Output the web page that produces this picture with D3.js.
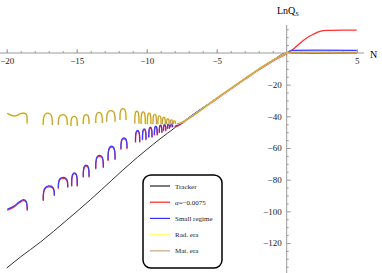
<!DOCTYPE html>
<html lang="en">
<head>
  <meta charset="UTF-8">
  <title>LnQs vs N</title>
  <style>
    body { margin: 0; background: #fff; }
    text { font-family: "Liberation Serif", "DejaVu Serif", serif; }
  </style>
</head>
<body>
  <svg id="chart"></svg>

  <script src="https://d3js.org/d3.v7.min.js"></script>
  <script>
    const width = 382;
    const height = 273;

    // tick values
    const xMajor = [-20, -15, -10, -5, 5];
    const xMinor = d3.range(-20, 6).filter(d => d !== 0);
    const yMajor = [-20, -40, -60, -80, -100, -120];
    const yMinor = [15, 10, 5, -5, -10, -15, -25, -30, -35, -45, -50, -55, -65, -70, -75,
                    -85, -90, -95, -105, -110, -115, -125, -130, -135];

    // Tracker (black)
    const tracker = [[-20, -135.8], [-19, -128.7], [-17.6, -119.5], [-15.7, -105.5], [-14, -92.5],
                     [-12.5, -80.4], [-11.7, -73.9], [-9.6, -58.1], [-7.4, -43.4], [-5, -28.5],
                     [-3, -16.2], [-2, -10.2], [-1, -4.6], [0, 0], [5, 0]];

    // shared trunk after the oscillations
    const trunk = [[-7.4, -43.4], [-5, -28.5], [-3, -16.2], [-2, -10.2], [-1, -4.6], [0, 0]];

    // oscillating part: first wave as points, then arches [N start, N end, low left, top, low right]
    const smallWave = [[-19.96, -98.7], [-19.5, -96.8], [-19.1, -94], [-18.8, -92.6], [-18.62, -93.5], [-18.53, -99]];
    const smallArches = [
      [-17.39, -16.6, -92.9, -83.6, -89.7],
      [-16.31, -15.64, -85.1, -78.3, -84.5],
      [-15.36, -14.96, -83.8, -75.3, -83.8],
      [-14.53, -14.12, -78.1, -70.5, -78],
      [-13.64, -13.1, -72.8, -64.3, -72],
      [-12.76, -12.26, -67.6, -58.5, -67],
      [-11.84, -11.41, -60.5, -53.3, -60],
      [-10.8, -10.5, -56, -48.6, -56],
      [-10.3, -10.05, -54.5, -47.6, -54.5],
      [-9.85, -9.62, -53, -46.6, -53],
      [-9.45, -9.25, -51.5, -45.9, -51.5],
      [-9.1, -8.92, -50, -45.3, -50],
      [-8.8, -8.64, -48.8, -44.9, -48.8],
      [-8.52, -8.38, -47.5, -44.6, -47.5],
      [-8.28, -8.15, -46.5, -44.3, -46.5]
    ];
    const smallTail = [[-8.0, -46.3], [-7.7, -45.2], [-7.4, -43.4]];
    const smallLate = [[0, 0], [0.3, 1.5], [0.6, 1.7], [5, 1.7]];
    const alphaLate = [[0, 0], [0.5, 3.2], [0.95, 6.8], [1.4, 9.9], [1.9, 12.4], [2.38, 14.3], [3, 14.9], [5, 15]];

    const matWave = [[-19.96, -38.1], [-19.6, -39.6], [-19.3, -39.6], [-19.05, -38.4], [-18.7, -38.1], [-18.58, -39], [-18.55, -44.6]];
    const matArches = [
      [-17.39, -16.74, -45.5, -37.7, -45.5],
      [-16.31, -15.67, -45.5, -38.7, -45.5],
      [-15.41, -14.96, -46.1, -39.7, -46.1],
      [-14.53, -14.12, -44.8, -38.6, -44.8],
      [-13.64, -13.17, -44.2, -37.2, -44.2],
      [-12.86, -12.26, -43.4, -36.1, -43.4],
      [-11.91, -11.48, -42.3, -34.8, -42.3],
      [-10.85, -10.55, -44.5, -36.4, -44.5],
      [-10.4, -10.1, -44.8, -36.9, -44.8],
      [-9.95, -9.7, -45, -37.6, -45],
      [-9.55, -9.3, -45, -38.4, -45],
      [-9.2, -8.97, -45, -39.4, -45],
      [-8.88, -8.67, -45, -40.4, -45],
      [-8.58, -8.4, -45, -41.4, -45],
      [-8.32, -8.16, -45, -42.1, -45],
      [-8.1, -7.95, -44.8, -42.7, -44.8]
    ];
    const matTail = [[-7.85, -44.8], [-7.6, -44.2], [-7.4, -43.4]];
    const matLate = [[0, 0], [0.4, 0.4], [5, 0.4]];

    const legendItems = [
      { label: "Tracker", color: "#222" },
      { label: "α=−0.0075", color: "#ff2020" },
      { label: "Small regime", color: "#3030ff" },
      { label: "Rad. era", color: "#ffff70" },
      { label: "Mat. era", color: "#c9a882" }
    ];

    const x = d3.scaleLinear().domain([-20, 5]).range([6.7, 356.7]);
    const y = d3.scaleLinear().domain([0, -120]).range([53, 243]);

    const svg = d3.select("#chart")
      .attr("width", width)
      .attr("height", height);

    const axisColor = "#9a9a9a";

    // x axis
    const gx = svg.append("g").attr("transform", `translate(0, ${y(0)})`);
    gx.append("line").attr("x1", 0).attr("x2", 364).attr("stroke", axisColor);
    gx.append("g")
      .call(d3.axisBottom(x).tickValues(xMinor).tickSize(-2).tickFormat(""))
      .call(g => g.select(".domain").remove());
    gx.append("g")
      .call(d3.axisBottom(x).tickValues(xMajor).tickSize(-4).tickPadding(5)
        .tickFormat(d => d < 0 ? "−" + Math.abs(d) : d))
      .call(g => g.select(".domain").remove());
    gx.selectAll(".tick line").attr("stroke", axisColor);
    gx.selectAll(".tick text").attr("font-size", 9).attr("fill", "#222")
      .attr("font-family", "Liberation Serif");

    // y axis
    const gy = svg.append("g").attr("transform", `translate(${x(0)}, 0)`);
    gy.append("line").attr("y1", 25).attr("y2", height).attr("stroke", axisColor);
    gy.append("g")
      .call(d3.axisLeft(y).tickValues(yMinor).tickSize(-2).tickFormat(""))
      .call(g => g.select(".domain").remove());
    gy.append("g")
      .call(d3.axisLeft(y).tickValues(yMajor).tickSize(-4).tickPadding(5)
        .tickFormat(d => "−" + Math.abs(d)))
      .call(g => g.select(".domain").remove());
    gy.selectAll(".tick line").attr("stroke", axisColor);
    gy.selectAll(".tick text").attr("font-size", 9).attr("fill", "#222")
      .attr("font-family", "Liberation Serif");

    // axis labels
    svg.append("text").attr("x", 370).attr("y", 58).attr("font-size", 10).text("N");
    const yl = svg.append("text").attr("x", 277).attr("y", 14).attr("font-size", 10);
    yl.append("tspan").text("LnQ");
    yl.append("tspan").attr("font-size", 7).attr("font-style", "italic").attr("dy", 2).text("S");

    const line = d3.line().x(d => x(d[0])).y(d => y(d[1])).curve(d3.curveMonotoneX);
    const smooth = d3.line().x(d => x(d[0])).y(d => y(d[1])).curve(d3.curveCatmullRom.alpha(0.5));
    const archLine = d3.line().x(d => x(d[0])).y(d => y(d[1])).curve(d3.curveBasis);

    function archPts(a) {
      return [[a[0], a[2]], [a[0], a[2]], [a[0], a[3]], [a[1], a[3]], [a[1], a[4]], [a[1], a[4]]];
    }

    function drawSeries(wave, arches, tail, late, color, w, dy) {
      const g = svg.append("g").attr("transform", `translate(0, ${dy})`)
        .attr("fill", "none").attr("stroke", color).attr("stroke-width", w);
      g.append("path").attr("d", smooth(wave));
      arches.forEach(a => g.append("path").attr("d", archLine(archPts(a))));
      g.append("path").attr("d", line(tail.concat(trunk.slice(1))));
      g.append("path").attr("d", smooth(late));
    }

    // curves
    svg.append("path").attr("d", line(tracker))
      .attr("fill", "none").attr("stroke", "#333").attr("stroke-width", 1);

    drawSeries(smallWave, smallArches, smallTail, alphaLate, "#ff3030", 1.3, 0.9);
    drawSeries(smallWave, smallArches, smallTail, smallLate, "#3a3aff", 1.2, 0);
    drawSeries(matWave, matArches, matTail, matLate, "#ffff70", 1.8, 0);
    drawSeries(matWave, matArches, matTail, matLate, "#c39a4c", 1.2, 0);

    // legend
    const lg = svg.append("g").attr("transform", "translate(143, 175)");
    lg.append("rect").attr("width", 79).attr("height", 93).attr("rx", 8)
      .attr("fill", "#fff").attr("stroke", "#000").attr("stroke-width", 1.5);
    const rows = lg.selectAll("g.row").data(legendItems).join("g")
      .attr("class", "row")
      .attr("transform", (d, i) => `translate(0, ${11 + i * 16.2})`);
    rows.append("line").attr("x1", 7).attr("x2", 27)
      .attr("stroke", d => d.color).attr("stroke-width", 1.2);
    rows.append("text").attr("x", 32).attr("y", 2.5).attr("font-size", 7).attr("fill", "#222")
      .each(function (d) {
        const t = d3.select(this);
        if (d.label.startsWith("α")) {
          t.append("tspan").attr("font-style", "italic").text("α");
          t.append("tspan").text(d.label.slice(1));
        } else {
          t.text(d.label);
        }
      });
  </script>
</body>
</html>
